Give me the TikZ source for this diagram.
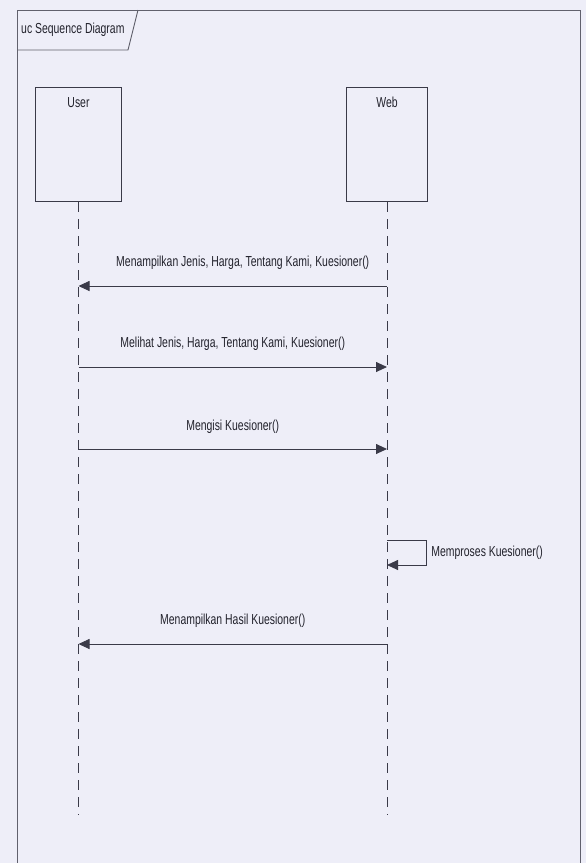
\documentclass[tikz,border=0pt]{standalone}
\usepackage{fontspec}
\setmainfont{Liberation Sans}[FakeStretch=0.72]
\usetikzlibrary{arrows.meta}
\definecolor{bgc}{HTML}{EEEEF8}
\definecolor{lnc}{HTML}{3A3A48}
\definecolor{txc}{HTML}{22222C}
\tikzset{
  lifebox/.style={draw=lnc, line width=1pt, minimum width=86pt, minimum height=114pt, anchor=north west, inner sep=0pt},
  lifeline/.style={draw=lnc, line width=0.9pt, dash pattern=on 10pt off 7pt},
  msg/.style={draw=lnc, line width=0.9pt, -{Triangle[length=11pt,width=10pt]}},
  msglabel/.style={font=\fontsize{14.5}{16}\selectfont, text=txc, inner sep=1pt},
}
\begin{document}
\begin{tikzpicture}[x=1pt,y=-1pt]
\useasboundingbox[fill=bgc] (0,0) rectangle (586,863);
% frame
\draw[lnc!80, line width=1pt] (17,870) -- (17,10) -- (580,10) -- (580,870);
\node[msglabel, anchor=west] (ftitle) at (20,30) {uc Sequence Diagram};
\draw[lnc!80, line width=0.9pt] (17,50) -- (128,50) -- (138,10);
% lifeline heads
\node[lifebox] (user) at (35,87) {};
\node[msglabel, anchor=north] at ([yshift=-9pt]user.north) {User};
\node[lifebox, minimum width=81pt] (web) at (346,87) {};
\node[msglabel, anchor=north] at ([yshift=-9pt]web.north) {Web};
\coordinate (uend) at (79,815);
\coordinate (wend) at (385,815);
\path[lifeline] (user.south) -- (user.south |- uend);
\path[lifeline] (web.south) -- (web.south |- wend);
% messages
\coordinate (w1) at (web.south |- 0,286);
\coordinate (u1) at (user.south |- 0,286);
\draw[msg] (w1) -- node[msglabel, above=15pt, xshift=10pt] {Menampilkan Jenis, Harga, Tentang Kami, Kuesioner()} (u1);
\coordinate (u2) at (user.south |- 0,367);
\coordinate (w2) at (web.south |- 0,367);
\draw[msg] (u2) -- node[msglabel, above=15pt] {Melihat Jenis, Harga, Tentang Kami, Kuesioner()} (w2);
\coordinate (u3) at (user.south |- 0,449);
\coordinate (w3) at (web.south |- 0,449);
\draw[msg] (u3) -- node[msglabel, above=14pt] {Mengisi Kuesioner()} (w3);
\coordinate (w4a) at (web.south |- 0,540);
\coordinate (w4b) at (web.south |- 0,565);
\draw[msg] (w4a) -- ++(39,0) |- node[msglabel, anchor=west, pos=0.25, xshift=4pt] {Memproses Kuesioner()} (w4b);
\coordinate (w5) at (web.south |- 0,644);
\coordinate (u5) at (user.south |- 0,644);
\draw[msg] (w5) -- node[msglabel, above=15pt] {Menampilkan Hasil Kuesioner()} (u5);
\end{tikzpicture}
\end{document}
